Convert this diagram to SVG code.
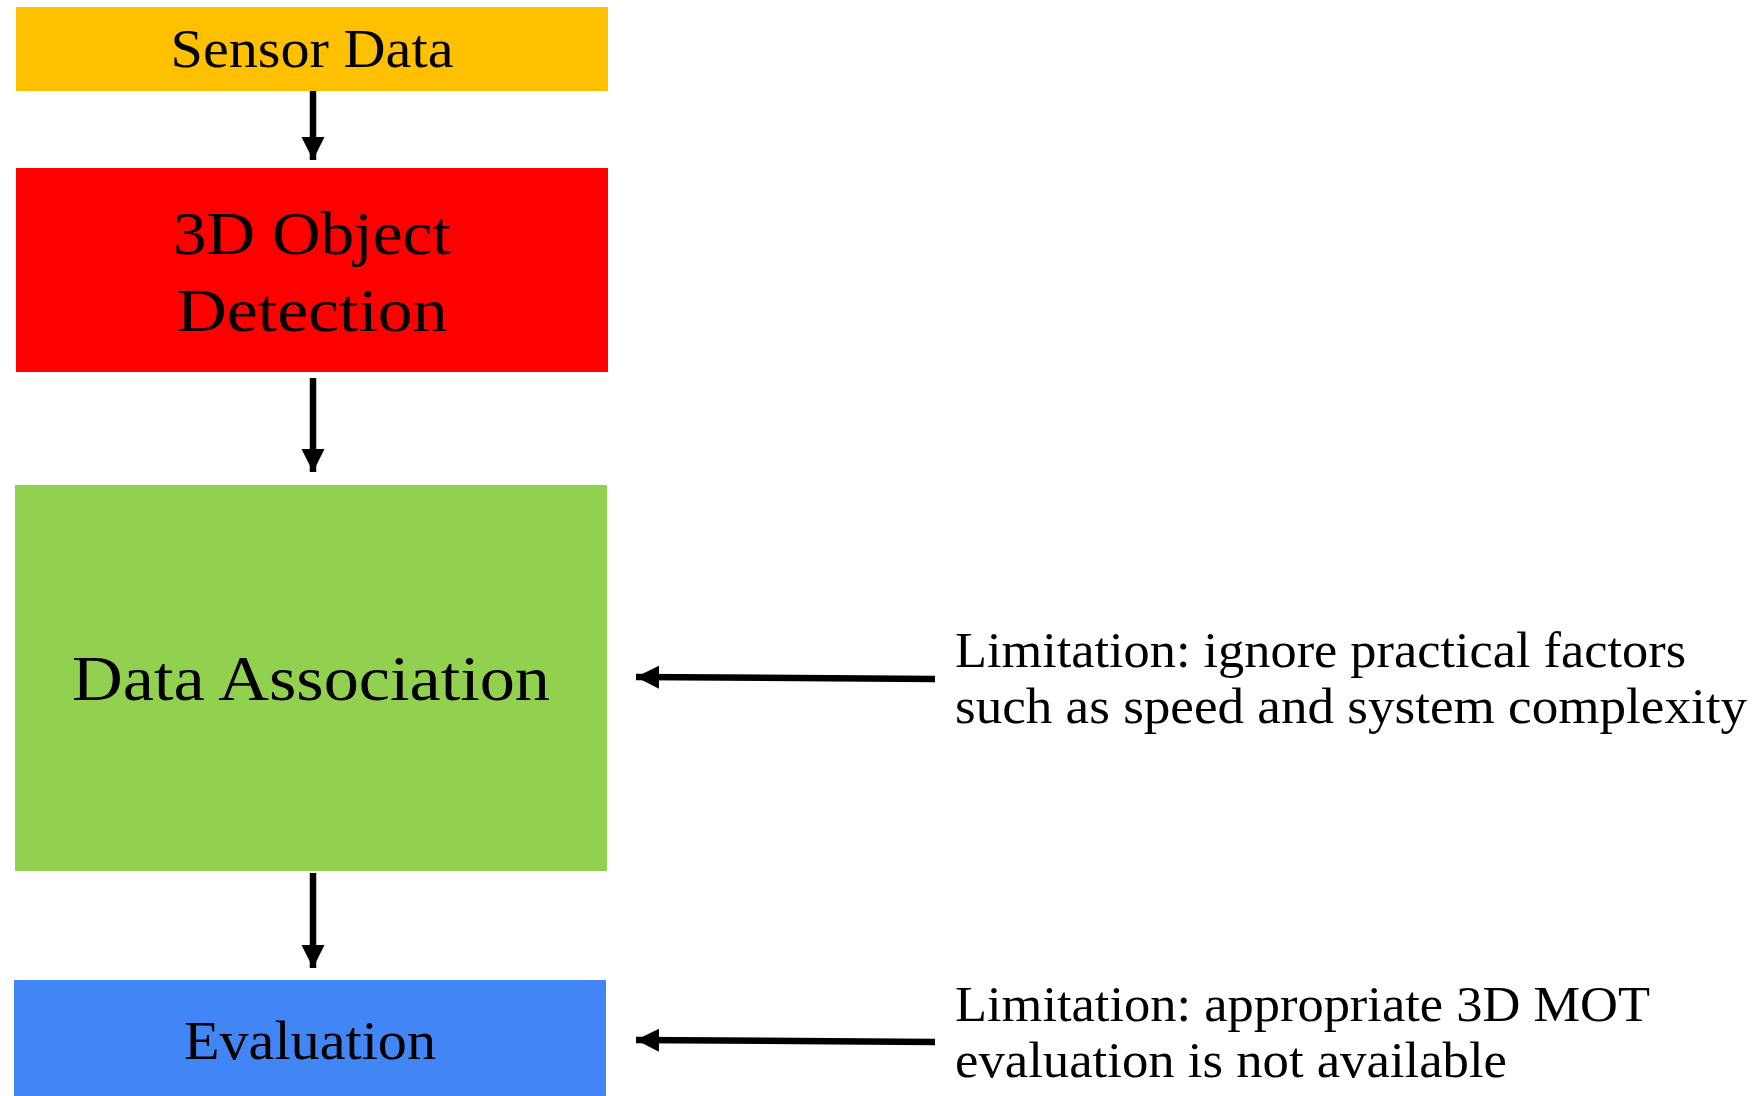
<svg xmlns="http://www.w3.org/2000/svg" width="1754" height="1096" viewBox="0 0 1754 1096">
<style>
.lbl{font-family:"Liberation Serif","DejaVu Serif",serif;fill:#000;}
.c{text-anchor:middle;}
.conn{stroke:#000;stroke-width:6.5;fill:none;}
</style>
<defs>
<marker id="ah" markerUnits="userSpaceOnUse" markerWidth="26" markerHeight="26" viewBox="0 0 26 26" refX="23" refY="13" orient="auto">
<path d="M0,1.5 L23,13 L0,24.5 Z" fill="#000"/>
</marker>
</defs>
<rect width="1754" height="1096" fill="#fff"/>
<g id="sensor-data">
<rect x="16" y="7" width="592" height="84" fill="#FFC000"/>
<text class="lbl c" x="312" y="67" font-size="54" textLength="283" lengthAdjust="spacingAndGlyphs">Sensor Data</text>
</g>
<g id="object-detection">
<rect x="16" y="168" width="592" height="204" fill="#FF0000"/>
<text class="lbl c" x="312" y="254" font-size="62" textLength="278" lengthAdjust="spacingAndGlyphs">3D Object</text>
<text class="lbl c" x="312" y="331" font-size="62" textLength="271" lengthAdjust="spacingAndGlyphs">Detection</text>
</g>
<g id="data-association">
<rect x="15" y="485" width="592" height="386" fill="#92D050"/>
<text class="lbl c" x="311" y="700" font-size="64" textLength="478" lengthAdjust="spacingAndGlyphs">Data Association</text>
</g>
<g id="evaluation">
<rect x="14" y="980" width="592" height="120" fill="#4285F4"/>
<text class="lbl c" x="310" y="1059" font-size="54" textLength="252" lengthAdjust="spacingAndGlyphs">Evaluation</text>
</g>
<g id="limitation-1">
<text class="lbl" x="955" y="667" font-size="50" textLength="731" lengthAdjust="spacingAndGlyphs">Limitation: ignore practical factors</text>
<text class="lbl" x="955" y="723" font-size="50" textLength="792" lengthAdjust="spacingAndGlyphs">such as speed and system complexity</text>
</g>
<g id="limitation-2">
<text class="lbl" x="955" y="1021" font-size="50" textLength="695" lengthAdjust="spacingAndGlyphs">Limitation: appropriate 3D MOT</text>
<text class="lbl" x="955" y="1077" font-size="50" textLength="552" lengthAdjust="spacingAndGlyphs">evaluation is not available</text>
</g>
<g id="connectors">
<line class="conn" x1="313" y1="91" x2="313" y2="160" marker-end="url(#ah)"/>
<line class="conn" x1="313" y1="378" x2="313" y2="472" marker-end="url(#ah)"/>
<line class="conn" x1="313" y1="873" x2="313" y2="968" marker-end="url(#ah)"/>
<line class="conn" x1="935" y1="679" x2="636" y2="677" marker-end="url(#ah)"/>
<line class="conn" x1="935" y1="1042" x2="636" y2="1040" marker-end="url(#ah)"/>
</g>
</svg>
